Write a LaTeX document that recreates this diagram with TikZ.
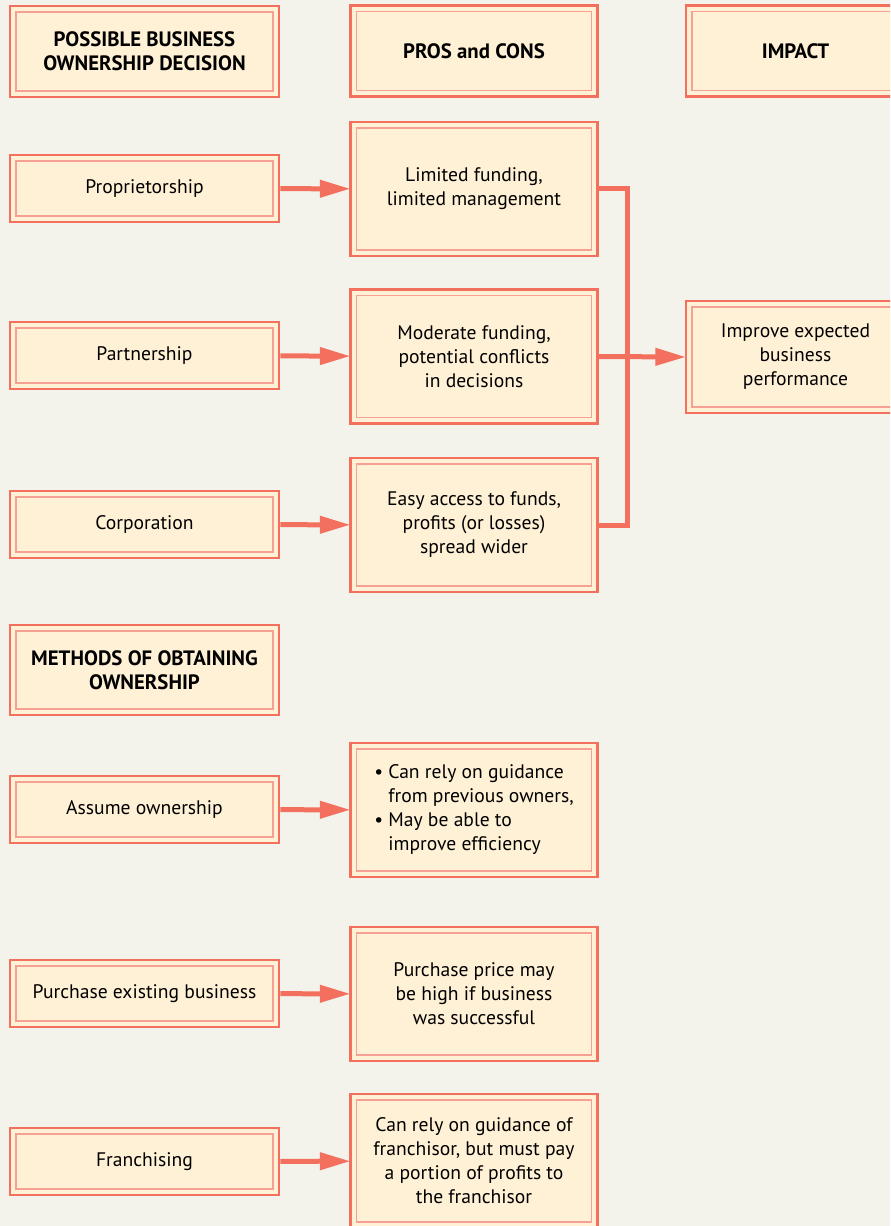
\documentclass[tikz,border=0pt]{standalone}
\usepackage{fontspec}
\setmainfont{PT Sans}
\usetikzlibrary{positioning,arrows.meta}
\definecolor{pagebg}{RGB}{243,243,235}
\definecolor{boxfill}{RGB}{255,241,214}
\definecolor{coralred}{RGB}{243,111,94}
\definecolor{coralpale}{RGB}{245,160,146}

\begin{document}
\begin{tikzpicture}[x=0.75pt,y=-0.75pt,
      cbox/.style={draw=coralred,line width=1.9pt,fill=boxfill,inner sep=0pt,
                   align=center,font=\fontsize{14.7}{18}\selectfont,
                   path picture={\draw[coralpale,line width=0.8pt]
                     ([shift={(4.5pt,4.5pt)}]path picture bounding box.south west) rectangle
                     ([shift={(-4.5pt,-4.5pt)}]path picture bounding box.north east);}},
      lbox/.style={cbox,minimum width=201.75pt,minimum height=50.25pt},
      mbox/.style={cbox,minimum width=185.25pt,minimum height=100.5pt},
      headbox/.style={cbox,minimum height=68.25pt,font=\fontsize{15.6}{18}\selectfont\bfseries},
      flow/.style={coralred,line width=3.75pt,shorten >=-1pt,
                   -{Triangle[length=23pt,width=12.5pt]}},
      link/.style={coralred,line width=3.75pt,line join=miter}]

    \useasboundingbox (0,0) rectangle (890,1226);
    \fill[pagebg] (0,0) rectangle (890,1226);
    \clip (0,0) rectangle (890,1226);

    % column headings
    \node[headbox,minimum width=201.75pt] (hdecision) at (144.5,51.5) {POSSIBLE BUSINESS\\OWNERSHIP DECISION};
    \node[headbox,minimum width=185.25pt] (hproscons) at (474,51) {PROS and CONS};
    \node[headbox,minimum width=164.25pt] (himpact) at (795.5,51) {IMPACT};

    % ownership forms
    \node[lbox] (prop) at (144.5,188.5) {Proprietorship};
    \node[lbox] (part) at (144.5,355.5) {Partnership};
    \node[lbox] (corp) at (144.5,524.5) {Corporation};

    \node[mbox] (propnote) at (474,189) {Limited funding,\\limited management};
    \node[mbox] (partnote) at (474,356.5) {Moderate funding,\\potential conflicts\\in decisions};
    \node[mbox] (corpnote) at (474,525) {Easy access to funds,\\profits (or losses)\\spread wider};

    \node[cbox,minimum width=164.25pt,minimum height=84pt] (impact) at (795.5,357)
      {Improve expected\\business\\performance};

    \draw[flow] (prop) -- (propnote);
    \draw[flow] (part) -- (partnote);
    \draw[flow] (corp) -- (corpnote);

    \coordinate (merge) at (627,356.5);
    \draw[link] (propnote.east) -| (merge) |- (corpnote.east);
    \draw[flow] (partnote.east) -- (impact.west);

    % methods of obtaining ownership
    \node[headbox,minimum width=201.75pt,minimum height=67.5pt] (hmethods) at (144.5,670)
      {METHODS OF OBTAINING\\OWNERSHIP};

    \node[lbox] (assume) at (144.5,809.5) {Assume ownership};
    \node[lbox] (purchase) at (144.5,993.5) {Purchase existing business};
    \node[lbox] (franch) at (144.5,1161.5) {Franchising};

    \node[mbox] (assumenote) at (474,810) {%
      \begin{tabular}{@{}l@{\ }l@{}}
        \textbullet & Can rely on guidance\\
                    & from previous owners,\\
        \textbullet & May be able to\\
                    & improve efficiency
      \end{tabular}};
    \node[mbox] (purchasenote) at (474,994) {Purchase price may\\be high if business\\was successful};
    \node[mbox] (franchnote) at (474,1161) {Can rely on guidance of\\franchisor, but must pay\\a portion of profits to\\the franchisor};

    \draw[flow] (assume) -- (assumenote);
    \draw[flow] (purchase) -- (purchasenote);
    \draw[flow] (franch) -- (franchnote);
  \end{tikzpicture}
\end{document}
